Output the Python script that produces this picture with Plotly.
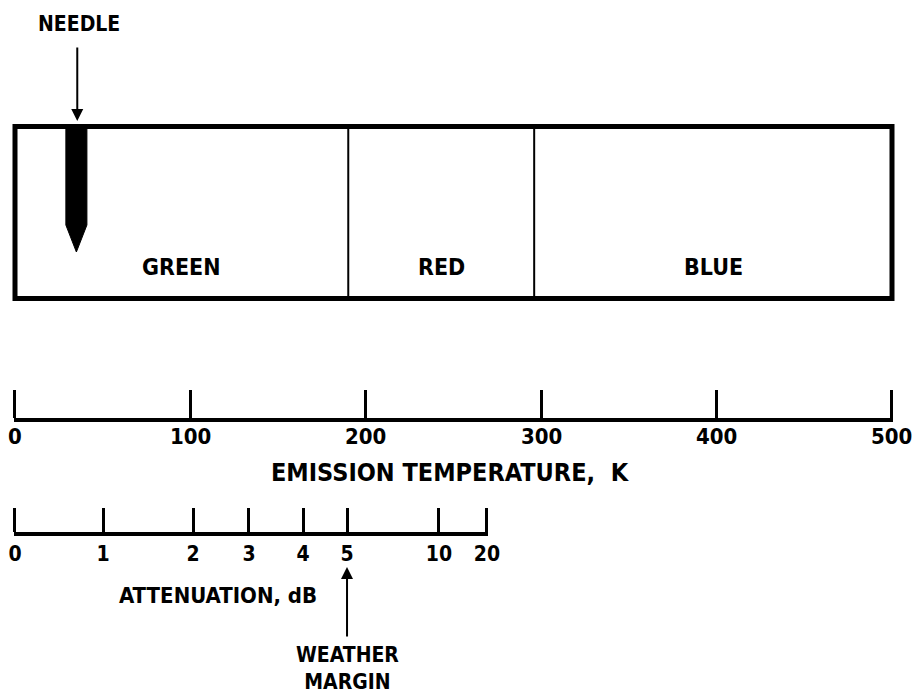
import plotly.graph_objects as go

# ---------------- data ----------------
BAND_NAMES = ["GREEN", "RED", "BLUE"]
BAND_EDGES_K = [0, 190, 296, 500]          # emission-temperature band boundaries, K
NEEDLE_K = 35                              # needle position, K

TEMP_TICKS = [0, 100, 200, 300, 400, 500]
TEMP_LABELS = ["0", "100", "200", "300", "400", "500"]

ATTEN_LABELS = ["0", "1", "2", "3", "4", "5", "10", "20"]
ATTEN_POS_K = [0, 50.2, 101.5, 133.4, 164.2, 189.3, 241.7, 269.1]   # where each dB tick sits, K
WEATHER_MARGIN_DB = "5"

# ---------------- layout constants ----------------
W, H = 912, 698
PX0, PX_PER_K = 15.0, 1.754       # pixel of 0 K and pixels per K
EPS = 0.6                         # small range padding (K) so end ticks are drawn
FONT = "DejaVu Sans Condensed, DejaVu Sans, sans-serif"
BLACK = "#000000"

def kx(px):
    return (px - PX0) / PX_PER_K

def px(k):
    return PX0 + k * PX_PER_K

def bold(size):
    return dict(family=FONT, size=size, color=BLACK, weight="bold")

fig = go.Figure()

# overlay drawing subplot (x in K, y in pixel-like units)
fig.add_trace(go.Scatter(x=[], y=[], xaxis="x", yaxis="y", showlegend=False))

# needle
hw = 6.0
fig.add_trace(go.Scatter(
    x=[NEEDLE_K - hw, NEEDLE_K + hw, NEEDLE_K + hw, NEEDLE_K, NEEDLE_K - hw, NEEDLE_K - hw],
    y=[127, 127, 225, 252, 225, 127],
    mode="lines", fill="toself", fillcolor=BLACK,
    line=dict(color=BLACK, width=1), showlegend=False, hoverinfo="skip",
    xaxis="x", yaxis="y"))

# temperature axis subplot & attenuation axis subplot (invisible carriers)
fig.add_trace(go.Scatter(x=[], y=[], xaxis="x2", yaxis="y2", showlegend=False))
fig.add_trace(go.Scatter(x=[], y=[], xaxis="x3", yaxis="y3", showlegend=False))

shapes = []
BOX_TOP, BOX_BOT = 126.5, 298.5
shapes.append(dict(type="rect", xref="x", yref="y",
                   x0=BAND_EDGES_K[0], x1=BAND_EDGES_K[-1], y0=BOX_TOP, y1=BOX_BOT,
                   line=dict(color=BLACK, width=5), layer="below"))
for e in BAND_EDGES_K[1:-1]:
    shapes.append(dict(type="line", xref="x", yref="y", x0=e, x1=e, y0=BOX_TOP, y1=BOX_BOT,
                       line=dict(color=BLACK, width=2)))

annotations = []
for i, name in enumerate(BAND_NAMES):
    annotations.append(dict(xref="x", yref="y", x=(BAND_EDGES_K[i] + BAND_EDGES_K[i + 1]) / 2,
                            y=267, text=name, showarrow=False, font=bold(23)))

# temperature tick labels (as annotations so the end label is never dropped)
for v, lab in zip(TEMP_TICKS, TEMP_LABELS):
    annotations.append(dict(xref="x2", yref="y", x=v, y=436, text=lab, showarrow=False,
                            font=bold(22)))

# needle label + arrow
annotations.append(dict(xref="x", yref="y", x=NEEDLE_K + 1.5, y=24, text="NEEDLE", showarrow=False,
                        font=bold(21)))
annotations.append(dict(xref="x", yref="y", x=NEEDLE_K + 0.5, y=121, axref="x", ayref="y",
                        ax=NEEDLE_K + 0.5, ay=46, text="", showarrow=True,
                        arrowhead=2, arrowsize=1.2, arrowwidth=2, arrowcolor=BLACK))

# axis titles
annotations.append(dict(xref="x", yref="y", x=kx(450), y=472, text="EMISSION TEMPERATURE,  K",
                        showarrow=False, font=bold(25)))
annotations.append(dict(xref="x", yref="y", x=kx(218), y=595, text="ATTENUATION, dB",
                        showarrow=False, font=bold(22)))

# weather margin arrow + label
wm = ATTEN_POS_K[ATTEN_LABELS.index(WEATHER_MARGIN_DB)]
annotations.append(dict(xref="x3", yref="y", x=wm, y=567, axref="x3", ayref="y",
                        ax=wm, ay=638, text="", showarrow=True,
                        arrowhead=2, arrowsize=1.2, arrowwidth=2, arrowcolor=BLACK))
annotations.append(dict(xref="x3", yref="y", x=wm, y=668, text="WEATHER<br>MARGIN",
                        showarrow=False, align="center", font=bold(21)))

def ydom(top_px, bot_px):
    return [1 - bot_px / H, 1 - top_px / H]

t_lo, t_hi = TEMP_TICKS[0] - EPS, TEMP_TICKS[-1] + EPS
a_lo, a_hi = ATTEN_POS_K[0] - EPS, ATTEN_POS_K[-1] + EPS

fig.update_layout(
    width=W, height=H,
    margin=dict(l=0, r=0, t=0, b=0, autoexpand=False),
    paper_bgcolor="white", plot_bgcolor="rgba(0,0,0,0)",
    showlegend=False,
    shapes=shapes, annotations=annotations,
    xaxis=dict(domain=[0, 1], range=[kx(0), kx(W)], visible=False, fixedrange=True),
    yaxis=dict(domain=[0, 1], range=[H, 0], visible=False, fixedrange=True),
    xaxis2=dict(domain=[px(t_lo) / W, px(t_hi) / W], range=[t_lo, t_hi], anchor="y2",
                tickmode="array", tickvals=TEMP_TICKS, ticktext=TEMP_LABELS,
                ticks="inside", ticklen=28, tickwidth=2.5, tickcolor=BLACK,
                showticklabels=False,
                showline=True, linewidth=3.5, linecolor=BLACK,
                showgrid=False, zeroline=False, fixedrange=True, automargin=False),
    yaxis2=dict(domain=ydom(388, 418), anchor="x2", visible=False, fixedrange=True),
    xaxis3=dict(domain=[px(a_lo) / W, px(a_hi) / W], range=[a_lo, a_hi], anchor="y3",
                tickmode="array", tickvals=ATTEN_POS_K, ticktext=ATTEN_LABELS,
                ticks="inside", ticklen=24, tickwidth=2.5, tickcolor=BLACK,
                showline=True, linewidth=3.5, linecolor=BLACK,
                showgrid=False, zeroline=False, fixedrange=True, automargin=False,
                tickfont=bold(21)),
    yaxis3=dict(domain=ydom(508, 532), anchor="x3", visible=False, fixedrange=True),
)

fig.write_html("out.html",
               config={"displayModeBar": False},
               post_script="document.body.style.margin='0';document.body.style.overflow='hidden';")
